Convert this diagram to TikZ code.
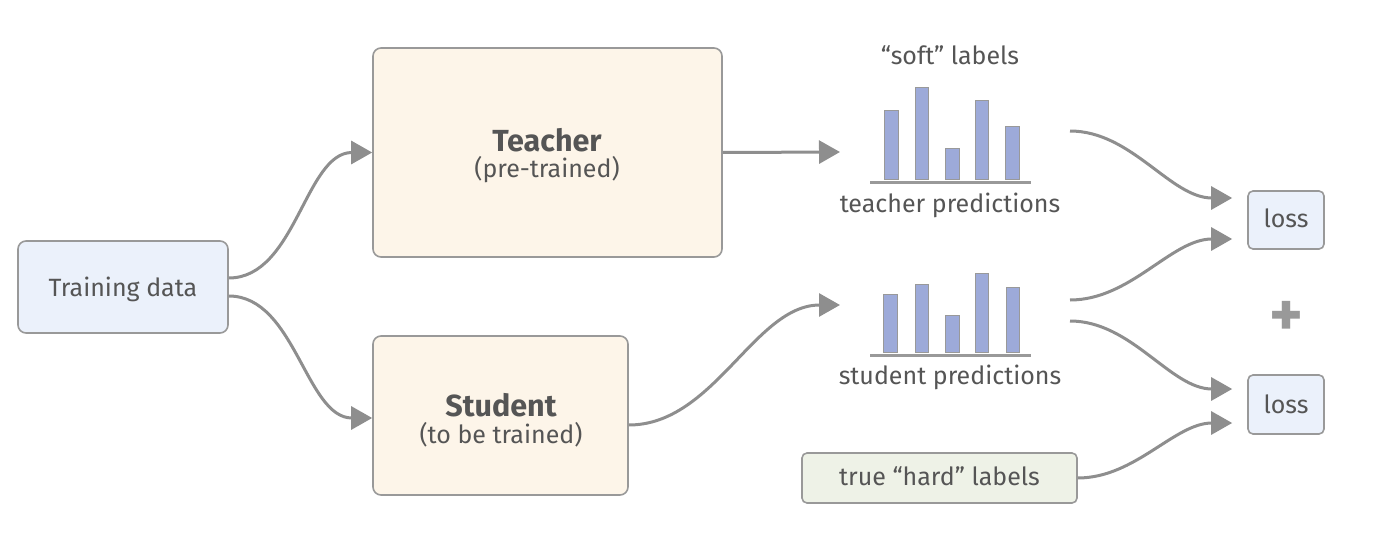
\documentclass[tikz,border=0pt]{standalone}
\usepackage{fontspec}
\setmainfont{Fira Sans}
\usetikzlibrary{arrows.meta,calc}
\definecolor{txt}{HTML}{555555}
\definecolor{edge}{HTML}{999999}
\definecolor{arr}{HTML}{8E8E8E}
\definecolor{bluefill}{HTML}{EBF1FB}
\definecolor{creamfill}{HTML}{FDF5E9}
\definecolor{greenfill}{HTML}{EEF2E7}
\definecolor{barfill}{HTML}{9DAAD9}
\tikzset{
  box/.style={draw=edge, line width=1.6pt, rounded corners=8pt, inner sep=0pt},
  smallbox/.style={draw=edge, line width=1.6pt, rounded corners=5pt, inner sep=0pt},
  lbl/.style={text=txt, font=\fontsize{25}{30}\selectfont, inner sep=0pt, anchor=base},
  title/.style={text=txt, font=\fontsize{30.5}{36}\selectfont\bfseries, inner sep=0pt, anchor=base},
  conn/.style={draw=arr, line width=3pt, -{Triangle[length=21pt,width=23pt]}},
  bar/.style={fill=barfill, draw=edge, line width=0.6pt},
  axis/.style={draw=edge, line width=3pt},
}
\begin{document}
\begin{tikzpicture}[x=1pt,y=-1pt]
\useasboundingbox (0,0) rectangle (1400,559);

% boxes
\node[box, fill=bluefill, minimum width=210pt, minimum height=92pt] (td) at (123,287) {};
\node[box, fill=creamfill, minimum width=349pt, minimum height=209pt] (teacher) at (547.5,152.5) {};
\node[box, fill=creamfill, minimum width=255pt, minimum height=159pt] (student) at (500.5,415.5) {};
\node[smallbox, fill=greenfill, minimum width=275pt, minimum height=50pt] (hard) at (939.5,478) {};
\node[smallbox, fill=bluefill, minimum width=76pt, minimum height=58pt] (loss1) at (1286,220) {};
\node[smallbox, fill=bluefill, minimum width=76pt, minimum height=59pt] (loss2) at (1286,404.5) {};

% texts
\node[lbl] (tdtxt) at (123,296) {Training data};
\node[title] (tt) at (547,152) {Teacher};
\node[lbl] (tsub) at (547,178) {(pre-trained)};
\node[title] (st) at (501,416) {Student};
\node[lbl] (ssub) at (501,443) {(to be trained)};
\node[lbl] (soft) at (950,65) {“soft” labels};
\node[lbl] (tpred) at (950,212) {teacher predictions};
\node[lbl] (spred) at (950,384) {student predictions};
\node[lbl] (hardtxt) at (939.5,485) {true “hard” labels};
\node[lbl] (l1txt) at (1286,227) {loss};
\node[lbl] (l2txt) at (1286,413) {loss};
\node[text=edge, font=\fontsize{64}{64}\selectfont\bfseries, inner sep=0pt] (plus) at (1286,319) {+};

% teacher predictions chart
\draw[bar] (884,179) rectangle (898,110);
\draw[bar] (915,179) rectangle (928,87);
\draw[bar] (945,179) rectangle (959,148);
\draw[bar] (975,179) rectangle (988,100);
\draw[bar] (1005,179) rectangle (1019,126);
\draw[axis] (870,182) -- (1031,182);
% student predictions chart
\draw[bar] (883,352) rectangle (897,294);
\draw[bar] (915,352) rectangle (928,284);
\draw[bar] (945,352) rectangle (959,315);
\draw[bar] (975,352) rectangle (988,273);
\draw[bar] (1006,352) rectangle (1019,287);
\draw[axis] (870,355) -- (1031,355);

% connector end points
\coordinate (tdup) at ($(td.east)+(0,-9)$);
\coordinate (tddown) at ($(td.east)+(0,9)$);
\coordinate (tin) at (teacher.west);
\coordinate (sin) at ($(student.west)+(0,2.5)$);
\coordinate (tout) at (teacher.east);
\coordinate (sout) at ($(student.east)+(0,9.5)$);
\coordinate (tchartin) at (840,152);
\coordinate (schartin) at (840,305);
\coordinate (tchartout) at (1070,131);
\coordinate (schartout1) at (1070,300);
\coordinate (schartout2) at (1070,321);
\coordinate (l1a) at ($(loss1.west)+(-15,-22)$);
\coordinate (l1b) at ($(loss1.west)+(-15,19)$);
\coordinate (l2a) at ($(loss2.west)+(-15,-15.5)$);
\coordinate (l2b) at ($(loss2.west)+(-15,18.5)$);

% connectors
\draw[conn] (tdup) to[out=0,in=180,looseness=0.9] (tin);
\draw[conn] (tddown) to[out=0,in=180,looseness=0.9] (sin);
\draw[conn] (tout) -- (tchartin);
\draw[conn] (sout) to[out=0,in=180,looseness=0.9] (schartin);
\draw[conn] (tchartout) to[out=0,in=180,looseness=0.9] (l1a);
\draw[conn] (schartout1) to[out=0,in=180,looseness=0.9] (l1b);
\draw[conn] (schartout2) to[out=0,in=180,looseness=0.9] (l2a);
\draw[conn] (hard.east) to[out=0,in=180,looseness=0.9] (l2b);
\end{tikzpicture}
\end{document}
